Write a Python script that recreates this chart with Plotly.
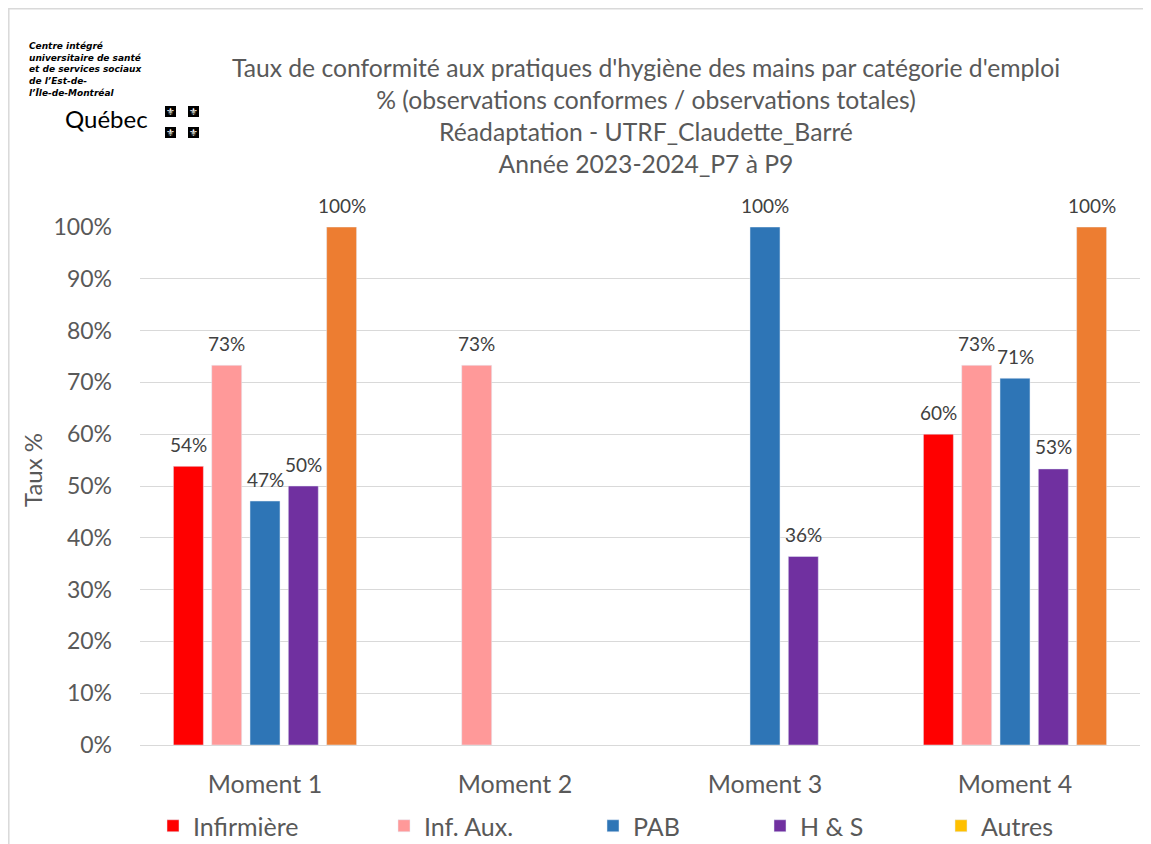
import plotly.graph_objects as go

# ---------------- data ----------------
categories = ["Moment 1", "Moment 2", "Moment 3", "Moment 4"]
infirmiere = [0.538, None, None, 0.60]
inf_aux = [0.733, 0.733, None, 0.733]
pab = [0.471, None, 1.00, 0.708]
h_s = [0.50, None, 0.364, 0.533]
autres = [1.00, None, None, 1.00]

series_names = ["Infirmière", "Inf. Aux.", "PAB", "H & S", "Autres"]
series_values = [infirmiere, inf_aux, pab, h_s, autres]
legend_colors = ["#FF0000", "#FF9999", "#2E75B6", "#7030A0", "#FFC000"]
bar_colors = ["#FF0000", "#FF9999", "#2E75B6", "#7030A0", "#ED7D31"]

title_lines = [
    "Taux de conformité aux pratiques d'hygiène des mains par catégorie d'emploi",
    "% (observations conformes / observations totales)",
    "Réadaptation - UTRF_Claudette_Barré",
    "Année 2023-2024_P7 à P9",
]
logo_lines = ["Centre intégré", "universitaire de santé", "et de services sociaux",
              "de l’Est-de-", "l’Île-de-Montréal"]

FONT = "Lato"
GREY = "#595959"

# page body has an 8px margin: figure is drawn 8px right/down of the window corner
OFF = 8
W, H = 1151 - OFF, 844 - OFF
PLOT_X0, PLOT_X1, PLOT_Y0, PLOT_Y1 = 140, 1140, 227, 745   # window pixels
L, R = PLOT_X0 - OFF, W - (PLOT_X1 - OFF)
T, B = PLOT_Y0 - OFF, H - (PLOT_Y1 - OFF)
PW, PH = PLOT_X1 - PLOT_X0, PLOT_Y1 - PLOT_Y0
BARGAP, BARGROUPGAP = 0.234, 0.217


def px(x):   # window px -> paper
    return (x - PLOT_X0) / PW


def py(y):
    return (PLOT_Y1 - y) / PH


def cx(x):   # window px -> container
    return (x - OFF) / W


def cy(y):
    return 1 - (y - OFF) / H


fig = go.Figure()
legend_ids = ["legend", "legend2", "legend3", "legend4", "legend5"]

n_series = len(series_names)
slot_px = PW / len(categories) * (1 - BARGAP) / n_series
annotations = []

for i, (name, vals) in enumerate(zip(series_names, series_values)):
    og = str(i)
    if name == "Autres":
        # legend entry (yellow) – the bars of this series are formatted orange
        fig.add_trace(go.Bar(x=categories, y=[None] * len(categories), name=name,
                             marker_color=legend_colors[i], offsetgroup=og,
                             legend=legend_ids[i], legendgroup=name))
        fig.add_trace(go.Bar(x=categories, y=vals, name=name, showlegend=False,
                             marker_color=bar_colors[i], offsetgroup=og,
                             legendgroup=name))
    else:
        fig.add_trace(go.Bar(x=categories, y=vals, name=name,
                             marker_color=bar_colors[i], offsetgroup=og,
                             legend=legend_ids[i], legendgroup=name))
    # data labels above each bar
    for c, v in zip(categories, vals):
        if v is None:
            continue
        annotations.append(dict(
            text=f"{v:.0%}", x=c, y=v, xref="x", yref="y",
            xshift=(i - (n_series - 1) / 2) * slot_px, yshift=22,
            xanchor="center", yanchor="middle", showarrow=False,
            font=dict(family=FONT, size=19, color="#404040")))

legend_text_x = [193, 424, 633, 800, 981]   # window px where legend texts start
legend_layout = {}
for lid, tx in zip(legend_ids, legend_text_x):
    legend_layout[lid] = dict(x=cx(tx - 40), y=cy(826), xref="container", yref="container",
                              xanchor="left", yanchor="middle",
                              orientation="h", bgcolor="rgba(0,0,0,0)",
                              font=dict(family=FONT, size=25, color=GREY))

fig.update_layout(
    width=W, height=H,
    margin=dict(l=L, r=R, t=T, b=B, autoexpand=False),
    paper_bgcolor="white", plot_bgcolor="white",
    barmode="group", bargap=BARGAP, bargroupgap=BARGROUPGAP,
    title=dict(text="<br>".join(title_lines), xref="container", yref="container",
               x=cx(646), xanchor="center", y=cy(77), yanchor="top",
               font=dict(family=FONT, size=24.7, color=GREY)),
    xaxis=dict(showgrid=False, showline=True, linecolor="#D9D9D9", linewidth=1,
               ticks="", tickfont=dict(family=FONT, size=25, color=GREY),
               ticklabelstandoff=17, fixedrange=True, automargin=False),
    yaxis=dict(range=[0, 1], dtick=0.1, tickformat=".0%", showgrid=True,
               gridcolor="#D9D9D9", gridwidth=1, zeroline=False, showline=False,
               ticks="", tickfont=dict(family=FONT, size=23, color=GREY),
               ticklabelstandoff=27, fixedrange=True, automargin=False),
    showlegend=True,
    **legend_layout,
)

annotations.append(dict(text="Taux %", textangle=-90, xref="paper", yref="paper",
                        x=px(32), y=py(470), xanchor="center", yanchor="middle",
                        showarrow=False, font=dict(family=FONT, size=24, color=GREY)))
annotations.append(dict(text="<br>".join(f"<b><i>{ln}</i></b>" for ln in logo_lines),
                        xref="paper", yref="paper", x=px(27), y=py(39),
                        xanchor="left", yanchor="top", align="left", showarrow=False,
                        font=dict(family="DejaVu Sans", size=9, color="black")))
annotations.append(dict(text="Québec", xref="paper", yref="paper", x=px(63), y=py(118),
                        xanchor="left", yanchor="middle", showarrow=False,
                        font=dict(family=FONT, size=24, color="black")))

shapes = [dict(type="rect", xref="paper", yref="paper", x0=px(OFF + 0.8), x1=px(1170),
               y0=py(OFF + 0.8), y1=py(870), line=dict(color="#D9D9D9", width=1.5),
               fillcolor="rgba(0,0,0,0)", layer="below")]
for sx in (165, 188):
    for sy in (106, 127):
        shapes.append(dict(type="rect", xref="paper", yref="paper",
                           x0=px(sx), x1=px(sx + 11), y0=py(sy), y1=py(sy + 11),
                           fillcolor="black", line=dict(width=0)))
        annotations.append(dict(text="⚜", xref="paper", yref="paper",
                                x=px(sx + 5.5), y=py(sy + 5.5), xanchor="center",
                                yanchor="middle", showarrow=False,
                                font=dict(family="DejaVu Sans", size=10, color="white")))

fig.update_layout(annotations=annotations, shapes=shapes)
fig.write_html("out.html")
